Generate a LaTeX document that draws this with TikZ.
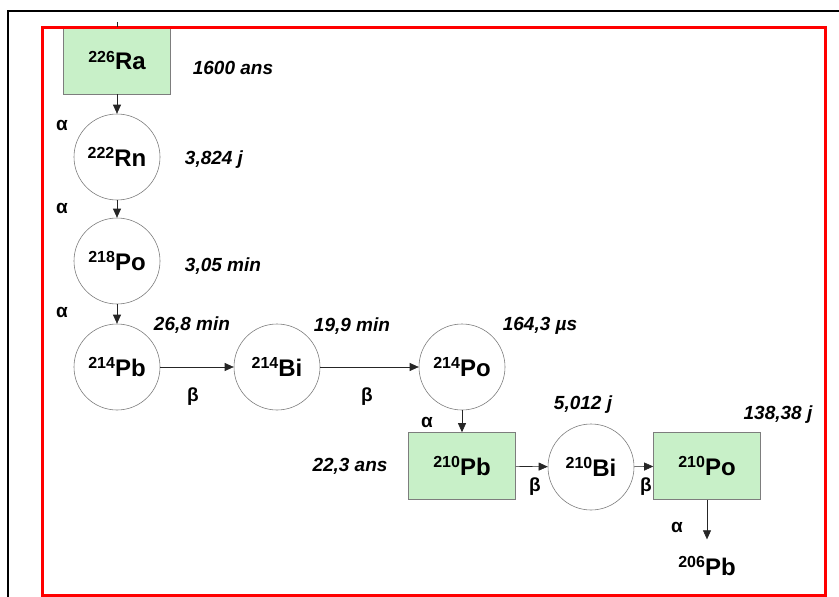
\documentclass[tikz,border=0pt]{standalone}
\usepackage{fontspec}
\setmainfont{Liberation Sans}
\usetikzlibrary{arrows.meta}

\definecolor{boxgreen}{RGB}{200,240,200}
\definecolor{rimgray}{RGB}{125,125,125}
\definecolor{framered}{RGB}{255,0,0}
\newcommand{\iso}[2]{\raisebox{7.5pt}{\fontsize{16}{16}\selectfont #1}#2}

\tikzset{
  nuc/.style={circle,draw=rimgray,line width=0.6pt,minimum size=86pt,inner sep=0pt,
    font=\fontsize{24}{24}\selectfont\bfseries},
  parent/.style={rectangle,draw=rimgray,fill=boxgreen,line width=0.6pt,minimum width=107pt,
    minimum height=67pt,inner sep=0pt,font=\fontsize{24}{24}\selectfont\bfseries},
  period/.style={inner sep=0pt,font=\fontsize{19}{19}\selectfont\bfseries\itshape},
  ray/.style={inner sep=0pt,font=\fontsize{19}{19}\selectfont\bfseries},
  decay/.style={draw=black!85,line width=0.6pt,-{Triangle[length=9pt,width=8pt]}}
}

\begin{document}
\begin{tikzpicture}[x=1pt,y=1pt,yscale=-1,xscale=1]
\useasboundingbox (0,0) rectangle (839,597);

% Frames
\draw[line width=1.5pt] (8,597) -- (8,11) -- (839,11);

% Nuclides
\node[parent] (ra226) at (117,60.5) {\iso{226}{Ra}};
\node[nuc] (rn222) at (117,157) {\iso{222}{Rn}};
\node[nuc] (po218) at (117,261) {\iso{218}{Po}};
\node[nuc] (pb214) at (117,367) {\iso{214}{Pb}};
\node[nuc] (bi214) at (277,367) {\iso{214}{Bi}};
\node[nuc] (po214) at (462,367) {\iso{214}{Po}};
\node[parent] (pb210) at (462,466) {\iso{210}{Pb}};
\node[nuc] (bi210) at (591,467) {\iso{210}{Bi}};
\node[parent] (po210) at (707,466) {\iso{210}{Po}};
\node[inner sep=0pt,font=\fontsize{24}{24}\selectfont\bfseries] (pb206) at (707,566) {\iso{206}{Pb}};
\coordinate (stub) at (117,22);

\draw[framered,line width=3pt] (42.5,27) rectangle (825,595);

% Half-lives
\node[period] (t1) at (233,68) {1600 ans};
\node[period] (t2) at (214,160) {3,824 j};
\node[period] (t3) at (223,266) {3,05 min};
\node[period] (t4) at (192,325) {26,8 min};
\node[period] (t5) at (352,326) {19,9 min};
\node[period] (t6) at (540,326) {164,3 µs};
\node[period] (t7) at (350,466) {22,3 ans};
\node[period] (t8) at (583,405) {5,012 j};
\node[period] (t9) at (778,415) {138,38 j};

% Radiations
\node[ray] (a1) at (62,125) {α};
\node[ray] (a2) at (62,208) {α};
\node[ray] (a3) at (62,312) {α};
\node[ray] (a4) at (427,422) {α};
\node[ray] (a5) at (677,527) {α};
\node[ray] (b1) at (193,397) {β};
\node[ray] (b2) at (367,397) {β};
\node[ray] (b3) at (535,487) {β};
\node[ray] (b4) at (646,487) {β};

% Connections
\draw[draw=black!85,line width=0.6pt] (stub) -- (117,27);
\draw[decay] (ra226) -- (rn222);
\draw[decay] (rn222) -- (po218);
\draw[decay] (po218) -- (pb214);
\draw[decay] (pb214) -- (bi214);
\draw[decay] (bi214) -- (po214);
\draw[decay] (po214) -- (pb210);
\draw[decay] (pb210) -- (bi210);
\draw[decay] (bi210) -- (po210);
\draw[decay,shorten >=17pt] (po210) -- (pb206);

\end{tikzpicture}
\end{document}
